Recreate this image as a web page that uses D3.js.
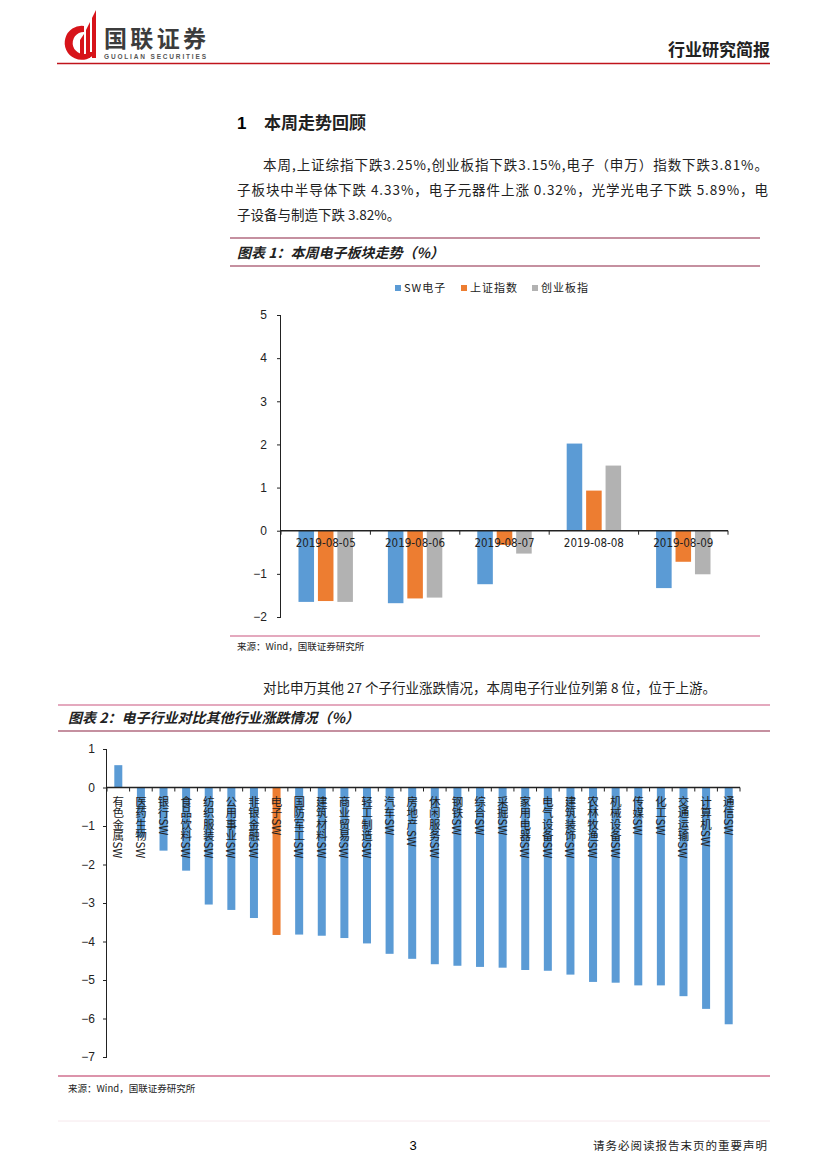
<!DOCTYPE html>
<html lang="zh">
<head>
<meta charset="UTF-8">
<title>本周走势回顾</title>
<script src="https://d3js.org/d3.v7.min.js"></script>
<style>
  body { margin: 0; background: #fff; }
  svg { display: block; }
  .cn { font-family: "Noto Sans CJK SC", sans-serif; fill: #222; }
  .num { font-family: Arial, "Liberation Sans", sans-serif; }
  .axis text { font-family: Arial, "Liberation Sans", sans-serif; font-size: 12px; fill: #222; }
  .axis path, .axis line { stroke: #222; }
</style>
</head>
<body>
<svg id="page" width="827" height="1169"></svg>
<script>
// ---- chart 1 data ----
const dates = ["2019-08-05", "2019-08-06", "2019-08-07", "2019-08-08", "2019-08-09"];
const seriesNames = ["SW电子", "上证指数", "创业板指"];
const swDianzi = [-1.65, -1.68, -1.24, 2.02, -1.33];
const shangzheng = [-1.63, -1.57, -0.33, 0.93, -0.72];
const chuangye = [-1.65, -1.55, -0.53, 1.51, -1.01];
const ticks1 = [-2, -1, 0, 1, 2, 3, 4, 5];

// ---- chart 2 data ----
const industries = ["有色金属SW", "医药生物SW", "银行SW", "食品饮料SW", "纺织服装SW", "公用事业SW", "非银金融SW",
  "电子SW", "国防军工SW", "建筑材料SW", "商业贸易SW", "轻工制造SW", "汽车SW", "房地产SW", "休闲服务SW", "钢铁SW",
  "综合SW", "采掘SW", "家用电器SW", "电气设备SW", "建筑装饰SW", "农林牧渔SW", "机械设备SW", "传媒SW", "化工SW",
  "交通运输SW", "计算机SW", "通信SW"];
const changes = [0.58, -1.3, -1.64, -2.16, -3.04, -3.18, -3.39, -3.83, -3.82, -3.85, -3.91, -4.05, -4.32, -4.45,
  -4.59, -4.63, -4.66, -4.68, -4.74, -4.76, -4.86, -5.05, -5.07, -5.14, -5.14, -5.42, -5.75, -6.15];
const ticks2 = [-7, -6, -5, -4, -3, -2, -1, 0, 1];

const colors = ["#5b9bd5", "#ed7d31", "#b2b2b2"];
const svg = d3.select("#page");

// ---- page header ----
const logo = svg.append("g");
logo.append("path")
  .attr("d", "M84,26 A17,17 0 1,0 96,52 L90,52 A11,11 0 1,1 84,32 Z")
  .attr("fill", "#d7141a");
logo.append("path").attr("d", "M80,58 L80,40 L84,34 L84,58 Z").attr("fill", "#d7141a");
logo.append("path").attr("d", "M86,58 L86,30 L90,22 L90,58 Z").attr("fill", "#d7141a");
logo.append("path").attr("d", "M92,58 L92,18 L96,10 L96,58 Z").attr("fill", "#d7141a");
logo.append("text").attr("class", "cn").attr("x", 104).attr("y", 47)
  .attr("font-size", 23).attr("font-weight", 700).style("fill", "#3c3c3c")
  .attr("textLength", 102).text("国联证券");
logo.append("text").attr("class", "num").attr("x", 104).attr("y", 58.5)
  .attr("font-size", 6.5).attr("font-weight", 700).attr("fill", "#555")
  .attr("textLength", 102).text("GUOLIAN SECURITIES");

svg.append("line").attr("x1", 57).attr("x2", 770).attr("y1", 63.5).attr("y2", 63.5)
  .attr("stroke", "#c0141c").attr("stroke-width", 1.6);
svg.append("text").attr("class", "cn").attr("x", 770).attr("y", 56)
  .attr("text-anchor", "end").attr("font-size", 17).attr("font-weight", 700).text("行业研究简报");

// ---- section heading + paragraph ----
svg.append("text").attr("class", "num").attr("x", 237).attr("y", 129)
  .attr("font-size", 17).attr("font-weight", 700).text("1");
svg.append("text").attr("class", "cn").attr("x", 264).attr("y", 129)
  .attr("font-size", 17).attr("font-weight", 700).text("本周走势回顾");

const para = [
  { x: 263, y: 170, len: 505, t: "本周,上证综指下跌3.25%,创业板指下跌3.15%,电子（申万）指数下跌3.81%。" },
  { x: 237, y: 195, len: 531, t: "子板块中半导体下跌 4.33%，电子元器件上涨 0.32%，光学光电子下跌 5.89%，电" },
  { x: 237, y: 220, len: null, t: "子设备与制造下跌 3.82%。" }
];
para.forEach(p => {
  const t = svg.append("text").attr("class", "cn").attr("x", p.x).attr("y", p.y)
    .attr("font-size", 13.5).text(p.t);
  if (p.len) t.attr("textLength", p.len).attr("lengthAdjust", "spacing");
});

// ---- chart 1 frame ----
svg.append("line").attr("x1", 230).attr("x2", 760).attr("y1", 238).attr("y2", 238).attr("stroke", "#8c2343").attr("stroke-width", 1.2);
svg.append("text").attr("class", "cn").attr("x", 237).attr("y", 258)
  .attr("font-size", 14).attr("font-weight", 700).attr("font-style", "italic").text("图表 1：本周电子板块走势（%）");
svg.append("line").attr("x1", 230).attr("x2", 760).attr("y1", 266).attr("y2", 266).attr("stroke", "#8c2343").attr("stroke-width", 1.2);
svg.append("line").attr("x1", 230).attr("x2", 760).attr("y1", 636).attr("y2", 636).attr("stroke", "#c9557e").attr("stroke-width", 1.2);
svg.append("text").attr("class", "cn").attr("x", 237).attr("y", 650)
  .attr("font-size", 9.5).text("来源：Wind，国联证券研究所");

// legend
const legendX = [395, 461, 532];
seriesNames.forEach((name, i) => {
  svg.append("rect").attr("x", legendX[i]).attr("y", 285).attr("width", 6).attr("height", 6).attr("fill", colors[i]);
  svg.append("text").attr("class", "cn").attr("x", legendX[i] + 9).attr("y", 292)
    .attr("font-size", 11).attr("letter-spacing", 1).text(name);
});

// scales
const x0 = d3.scaleBand().domain(dates).range([281, 728]);
const x1 = d3.scaleBand().domain(seriesNames).range([0, x0.bandwidth()]).paddingInner(0.2).paddingOuter(0.9);
const y1 = d3.scaleLinear().domain([-2, 5]).range([617, 315]);

const table = dates.map((d, i) => ({ date: d, vals: [swDianzi[i], shangzheng[i], chuangye[i]] }));
const groups = svg.append("g").selectAll("g").data(table).join("g")
  .attr("transform", d => `translate(${x0(d.date)},0)`);
groups.selectAll("rect").data(d => d.vals.map((v, i) => ({ v, i }))).join("rect")
  .attr("x", d => x1(seriesNames[d.i]))
  .attr("width", x1.bandwidth())
  .attr("y", d => y1(Math.max(0, d.v)))
  .attr("height", d => Math.abs(y1(d.v) - y1(0)))
  .attr("fill", d => colors[d.i]);

const yAxis1 = svg.append("g").attr("class", "axis").attr("transform", "translate(281,0)")
  .call(d3.axisLeft(y1).tickValues(ticks1).tickSize(4).tickPadding(10).tickFormat(d => d < 0 ? "−" + Math.abs(d) : d));
yAxis1.select(".domain").attr("d", `M-0.5,${y1(-2)}V${y1(5)}`);

const xAxis1 = svg.append("g").attr("class", "axis").attr("transform", `translate(0,${y1(0)})`);
xAxis1.append("line").attr("x1", 281).attr("x2", 728).attr("stroke", "#222").attr("stroke-width", 1.4);
xAxis1.selectAll(".tk").data(dates.concat(["end"])).join("line").attr("class", "tk")
  .attr("x1", (d, i) => i < dates.length ? x0(d) : 728).attr("x2", (d, i) => i < dates.length ? x0(d) : 728)
  .attr("y1", 0).attr("y2", 4).attr("stroke", "#222");
xAxis1.selectAll(".lb").data(dates).join("text").attr("class", "lb")
  .attr("x", d => x0(d) + x0.bandwidth() / 2).attr("y", 16)
  .attr("text-anchor", "middle")
  .style("font-family", '"DejaVu Sans Condensed", "DejaVu Sans", sans-serif').style("font-size", "11.5px")
  .text(d => d);

// ---- chart 2 ----
svg.append("text").attr("class", "cn").attr("x", 263).attr("y", 693)
  .attr("font-size", 13.5).text("对比申万其他 27 个子行业涨跌情况，本周电子行业位列第 8 位，位于上游。");
svg.append("line").attr("x1", 58).attr("x2", 770).attr("y1", 705).attr("y2", 705).attr("stroke", "#c9557e").attr("stroke-width", 1.2);
svg.append("text").attr("class", "cn").attr("x", 68).attr("y", 723)
  .attr("font-size", 14).attr("font-weight", 700).attr("font-style", "italic").text("图表 2：电子行业对比其他行业涨跌情况（%）");
svg.append("line").attr("x1", 58).attr("x2", 770).attr("y1", 731).attr("y2", 731).attr("stroke", "#8c2343").attr("stroke-width", 1.2);
svg.append("line").attr("x1", 58).attr("x2", 770).attr("y1", 1076).attr("y2", 1076).attr("stroke", "#d0708f").attr("stroke-width", 1.5);
svg.append("text").attr("class", "cn").attr("x", 68).attr("y", 1092)
  .attr("font-size", 9.5).text("来源：Wind，国联证券研究所");

const xb = d3.scaleBand().domain(industries).range([107, 740]);
const y2 = d3.scaleLinear().domain([-7, 1]).range([1057, 749]);
const barW = 8;

svg.append("g").selectAll("rect").data(industries).join("rect")
  .attr("x", d => xb(d) + xb.bandwidth() / 2 - barW / 2)
  .attr("width", barW)
  .attr("y", (d, i) => y2(Math.max(0, changes[i])))
  .attr("height", (d, i) => Math.abs(y2(changes[i]) - y2(0)))
  .attr("fill", d => d === "电子SW" ? colors[1] : colors[0]);

const yAxis2 = svg.append("g").attr("class", "axis").attr("transform", "translate(107,0)")
  .call(d3.axisLeft(y2).tickValues(ticks2).tickSize(4).tickPadding(8));
yAxis2.select(".domain").attr("d", `M-0.5,${y2(-7)}V${y2(1)}`);

const xAxis2 = svg.append("g").attr("transform", `translate(0,${y2(0)})`);
xAxis2.append("line").attr("x1", 107).attr("x2", 740).attr("stroke", "#222").attr("stroke-width", 1.4);
xAxis2.selectAll(".tk").data(industries.concat(["end"])).join("line").attr("class", "tk")
  .attr("x1", (d, i) => i < industries.length ? xb(d) : 740).attr("x2", (d, i) => i < industries.length ? xb(d) : 740)
  .attr("y1", 0).attr("y2", 4).attr("stroke", "#222");
xAxis2.selectAll(".lb").data(industries).join("text").attr("class", "lb cn")
  .attr("x", d => xb(d) + xb.bandwidth() / 2).attr("y", 8)
  .style("writing-mode", "vertical-rl")
  .attr("font-size", 11.5)
  .text(d => d);

// ---- footer ----
svg.append("line").attr("x1", 58).attr("x2", 770).attr("y1", 1121).attr("y2", 1121).attr("stroke", "#f6e8ec").attr("stroke-width", 1);
svg.append("text").attr("class", "num").attr("x", 413).attr("y", 1150)
  .attr("text-anchor", "middle").attr("font-size", 13).text("3");
svg.append("text").attr("class", "cn").attr("x", 768).attr("y", 1150)
  .attr("text-anchor", "end").attr("font-size", 11.5).attr("letter-spacing", 1).text("请务必阅读报告末页的重要声明");
</script>
</body>
</html>
